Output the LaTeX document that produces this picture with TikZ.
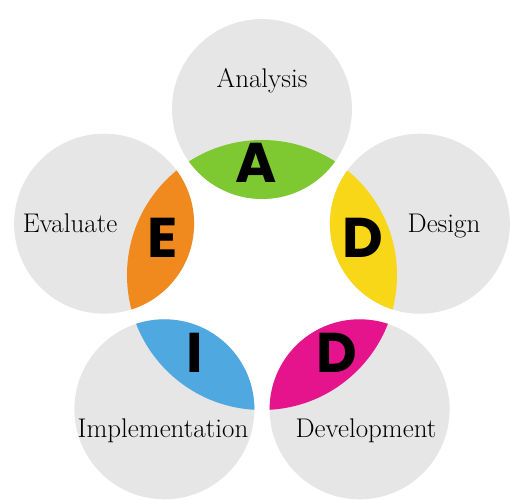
\documentclass[tikz,border=0pt]{standalone}
\usepackage{fontspec}
\newfontfamily\letterfont{Poppins}
\usepackage{tikz}
\definecolor{bubblegray}{RGB}{230,230,230}
\definecolor{agreen}{RGB}{126,200,50}
\definecolor{dyellow}{RGB}{248,214,24}
\definecolor{dmagenta}{RGB}{230,20,140}
\definecolor{iblue}{RGB}{80,168,224}
\definecolor{eorange}{RGB}{240,138,30}
\tikzstyle{bubble} = [circle, fill=bubblegray, minimum size=180pt, inner sep=0pt]
\tikzstyle{stage} = [anchor=base, inner sep=0pt, font=\fontsize{27}{32}\selectfont]
\tikzstyle{initial} = [inner sep=0pt, font=\fontsize{56}{60}\selectfont\letterfont\bfseries]

\begin{document}
\begin{tikzpicture}[x=1pt, y=1pt]
\useasboundingbox (0, 0) rectangle (511, 499);

\coordinate (hub) at (262, 224);

% circles
\node [bubble] at (262, 390) (ana) {};
\node [bubble] at (419.9, 275.3) (des) {};
\node [bubble] at (359.6, 89.7) (dev) {};
\node [bubble] at (164.4, 89.7) (imp) {};
\node [bubble] at (104.1, 275.3) (eva) {};

% coloured lenses
\begin{scope}
\clip (hub) circle (135);
\fill [agreen] (ana) circle (90);
\fill [dyellow] (des) circle (90);
\fill [dmagenta] (dev) circle (90);
\fill [iblue] (imp) circle (90);
\fill [eorange] (eva) circle (90);
\end{scope}

% letters
\node [initial] at (256, 336) (la) {A};
\node [initial] at (363, 261) (ld) {D};
\node [initial] at (337, 146) (ldd) {D};
\node [initial] at (195, 146) (li) {I};
\node [initial] at (163, 261) (le) {E};

% labels
\node [stage] at (262, 411) (tana) {Analysis};
\node [stage] at (444, 267) (tdes) {Design};
\node [stage] at (366, 62) (tdev) {Development};
\node [stage] at (163, 62) (timp) {Implementation};
\node [stage] at (70, 267) (teva) {Evaluate};

\end{tikzpicture}
\end{document}
